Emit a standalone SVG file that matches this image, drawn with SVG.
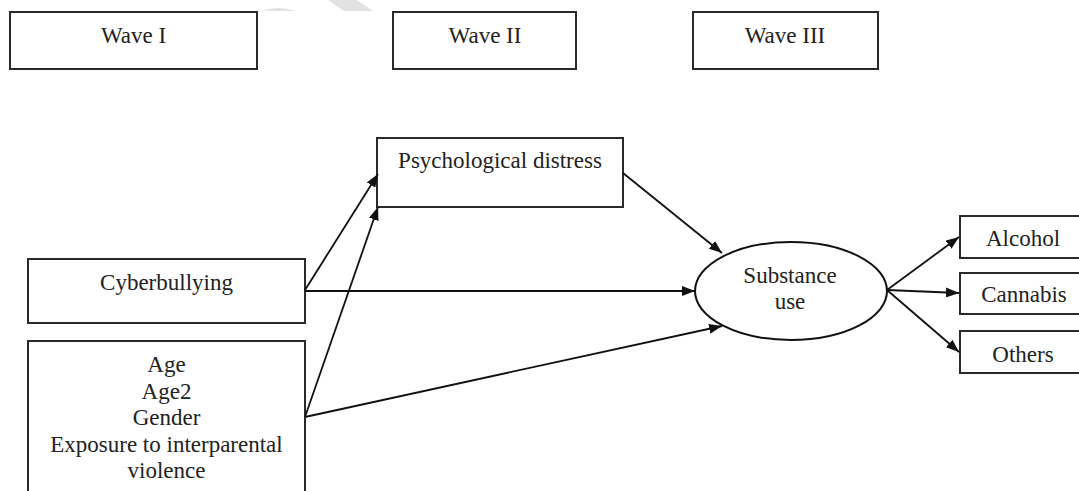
<svg xmlns="http://www.w3.org/2000/svg" width="1079" height="491" viewBox="0 0 1079 491">
<style>
.box{fill:#fff;stroke:#2a2a2a;stroke-width:2}
.t{font-family:"Liberation Serif","Times New Roman",serif;font-size:23px;fill:#222;text-anchor:middle}
.c{stroke:#111;stroke-width:1.8;fill:none;marker-end:url(#ah)}
</style>
<defs>
<marker id="ah" markerUnits="userSpaceOnUse" markerWidth="14" markerHeight="10" refX="13" refY="5" orient="auto">
<path d="M0,0 L13,5 L0,10 z" fill="#111"/>
</marker>
</defs>
<rect width="1079" height="491" fill="#fff"/>
<g id="watermark" fill="#e2e2e2">
<path d="M262,11 Q278,5 296,11 Z"/>
<path d="M328,0 L357,0 L373,11 L344,11 Z"/>
</g>
<g id="wave1"><rect class="box" x="10" y="12" width="247" height="57"/><text class="t" x="133.5" y="43">Wave I</text></g>
<g id="wave2"><rect class="box" x="393" y="12" width="183" height="57"/><text class="t" x="485" y="43">Wave II</text></g>
<g id="wave3"><rect class="box" x="693" y="12" width="185" height="57"/><text class="t" x="785" y="43">Wave III</text></g>
<g id="psych"><rect class="box" x="377" y="138" width="246" height="69"/><text class="t" x="500" y="168">Psychological distress</text></g>
<g id="cyber"><rect class="box" x="28" y="259" width="277" height="64"/><text class="t" x="166.5" y="290">Cyberbullying</text></g>
<g id="covariates"><rect class="box" x="28" y="341" width="277" height="170"/>
<text class="t" x="166.5" y="372">Age</text>
<text class="t" x="166.5" y="398.5">Age2</text>
<text class="t" x="166.5" y="425">Gender</text>
<text class="t" x="166.5" y="451.5">Exposure to interparental</text>
<text class="t" x="166.5" y="478">violence</text>
</g>
<g id="substance"><ellipse cx="791" cy="291" rx="96" ry="49" fill="#fff" stroke="#111" stroke-width="2"/>
<text class="t" x="790" y="283">Substance</text><text class="t" x="790" y="309">use</text></g>
<g id="alcohol"><rect class="box" x="960" y="216" width="130" height="42"/><text class="t" x="1023" y="246">Alcohol</text></g>
<g id="cannabis"><rect class="box" x="960" y="273" width="130" height="41"/><text class="t" x="1024" y="302">Cannabis</text></g>
<g id="others"><rect class="box" x="960" y="331" width="130" height="42"/><text class="t" x="1023" y="362">Others</text></g>
<g id="connectors">
<line class="c" x1="305" y1="290" x2="378" y2="174"/>
<line class="c" x1="305" y1="417" x2="378" y2="207"/>
<line class="c" x1="305" y1="291" x2="695" y2="291"/>
<line class="c" x1="305" y1="417" x2="722" y2="326"/>
<line class="c" x1="623" y1="173" x2="722" y2="253"/>
<line class="c" x1="887" y1="290" x2="959" y2="237"/>
<line class="c" x1="887" y1="290" x2="959" y2="293"/>
<line class="c" x1="887" y1="290" x2="959" y2="352"/>
</g>
</svg>
